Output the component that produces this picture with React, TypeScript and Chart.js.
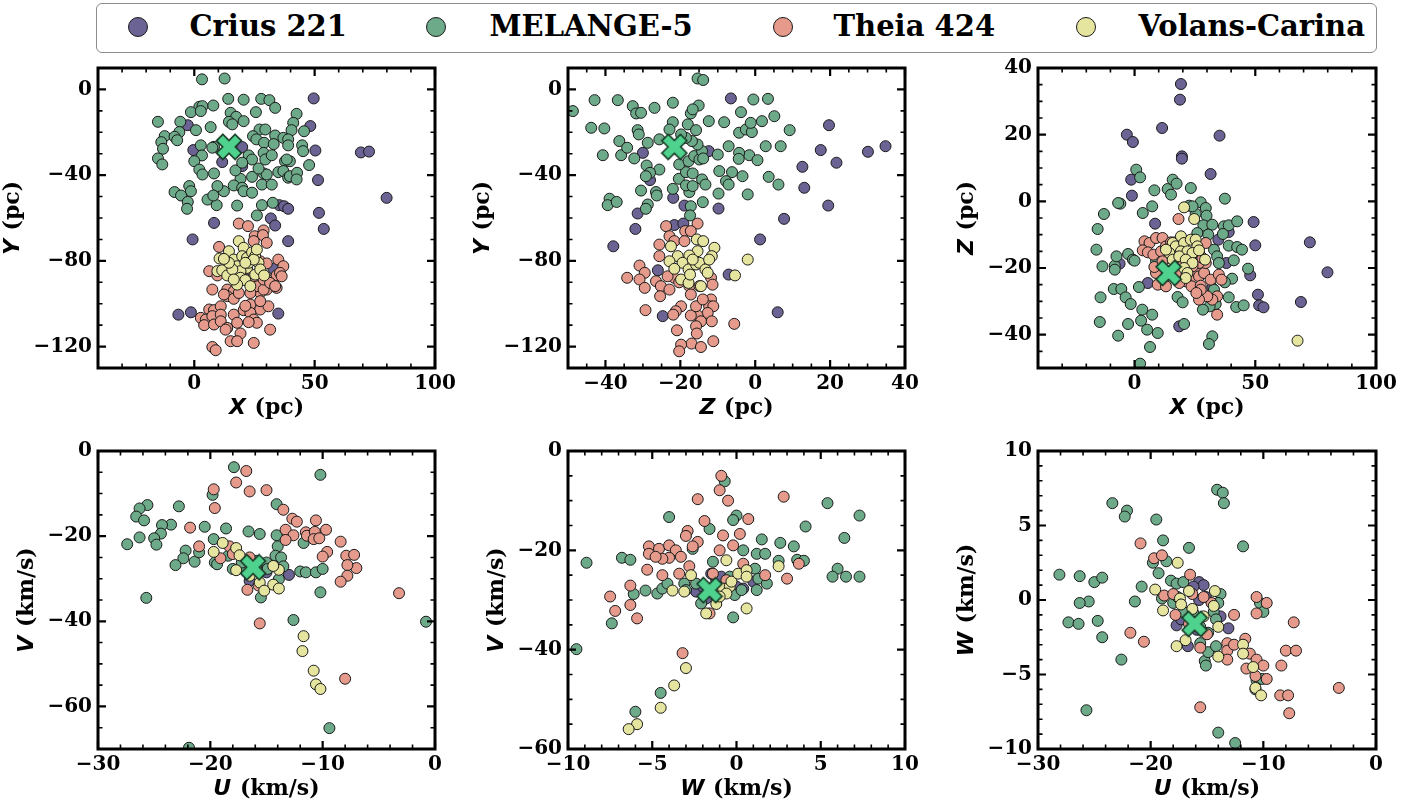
import React, { useEffect, useRef } from 'react';
import { Chart, registerables } from 'chart.js';

Chart.register(...registerables);

type Pt = [number, number];

const SERIES_NAMES = ['Crius 221', 'MELANGE-5', 'Theia 424', 'Volans-Carina'];
const SERIES_COLORS = ['#6B6394', '#6DAA89', '#E59A8B', '#E6E59F'];
const STAR_FILL = '#4FD28D';

// ---- tick labels ----
const TICKS_X_PC = [0, 50, 100];
const TICKS_Y_PC = [0, -40, -80, -120];
const TICKS_Z_PC_X = [-40, -20, 0, 20, 40];
const TICKS_Z_PC_Y = [40, 20, 0, -20, -40];
const TICKS_U = [-30, -20, -10, 0];
const TICKS_V = [0, -20, -40, -60];
const TICKS_W_X = [-10, -5, 0, 5, 10];
const TICKS_W_Y = [10, 5, 0, -5, -10];

// ---- Panel 1: X vs Y ----
const P1_CRIUS: Pt[] = [[-2.7,-16.7],[-0.4,-28.3],[11.6,-33.9],[19.9,-35.8],[19.9,-26.9],[49.6,-4.2],[48.2,-17.1],[50.3,-28.5],[69.2,-29.4],[72.6,-29],[51.4,-42.3],[79.9,-50.6],[51.8,-57.6],[53.8,-65.1],[35.3,-54],[37.3,-54.5],[39,-55.7],[31.8,-60.2],[33.6,-63.5],[8.2,-62.3],[-0.7,-70],[39,-70.8],[-6.6,-105.1],[-1.4,-104],[34.9,-104.6],[32.9,-83.7]];
const P1_MELANGE: Pt[] = [[3.2,4.7],[12.6,5.1],[14.1,-4.4],[20.5,-4.8],[27.8,-4.4],[31.2,-5],[33.6,-8.6],[2.1,-8.1],[3.4,-7.8],[7.9,-7.5],[-1.4,-10.6],[2.7,-10.1],[15.1,-10.9],[17.4,-12.8],[25.6,-10.6],[42.5,-11.4],[-15.1,-15.1],[-5.8,-15.1],[14.4,-15.1],[15.8,-16.3],[20.5,-14.8],[41.1,-15.6],[6.8,-17.6],[0.7,-19],[-6.2,-19.9],[27.1,-18.7],[29.5,-18.7],[40.4,-19],[45.6,-19.5],[-12.3,-21.8],[-8.2,-22.1],[-7.1,-23.7],[-13.7,-24.6],[2.7,-26.1],[8.2,-26.8],[24.4,-21.8],[25.8,-23.3],[29,-24.9],[33.6,-21.5],[37,-22.6],[39,-23.3],[44.8,-26.1],[-13,-27.7],[3.2,-30.8],[0,-33.5],[-15.1,-32.2],[-13.3,-35],[22.6,-30.8],[28.8,-29.6],[29.5,-32.7],[32.2,-30.7],[39,-26.1],[45.2,-28.8],[7.5,-27.2],[37.7,-33.5],[39.7,-33.5],[47.7,-35.3],[2.1,-37.4],[3.4,-39.7],[8.2,-39.2],[19.2,-41.7],[24,-40.8],[28.8,-39.2],[30.1,-39.7],[34.9,-38.6],[37,-38.1],[39,-41.2],[39.7,-40.5],[42.7,-38.9],[42.5,-42],[28.1,-44.4],[32.2,-44.4],[12.3,-47.5],[16.4,-44.8],[19.9,-45.9],[20.5,-47.5],[9.6,-45.1],[-2.1,-45.1],[-1.4,-47.5],[-8.2,-47.9],[-5.5,-49.5],[-2.7,-52.5],[-3,-55.7],[5.5,-51.4],[9.3,-54],[7.9,-49.5],[17.8,-54.2],[24,-48.2],[28.1,-54],[32.6,-52.9],[26,-58.8],[24,-32.7],[17.1,-37.8],[19.9,-34.2],[26.7,-36.9],[33,-25.5],[38.4,-32.7]];
const P1_THEIA: Pt[] = [[18.5,-62.6],[22.3,-63.8],[28.8,-65.8],[25.1,-68.5],[28.5,-68],[10.3,-73.5],[24.7,-70.8],[30.1,-71.6],[34.9,-79.4],[37,-82.5],[6.2,-84.8],[9.6,-86.8],[7.5,-93.4],[13.7,-93.4],[16.4,-94.2],[13.7,-96.5],[16.4,-97.7],[27.4,-94.9],[30.1,-93.4],[34.2,-92.6],[26,-91.8],[28.8,-93.4],[6.2,-102.7],[8.2,-103],[11,-101.2],[2.7,-106.6],[4.8,-107.4],[7.5,-105.8],[11,-105.1],[16.4,-105.1],[20.5,-103],[23.3,-100.4],[27.4,-102.7],[30.8,-101.2],[23.3,-104.3],[24.7,-107.4],[26,-108.9],[4.1,-110],[8.2,-109.7],[11,-108.2],[13.7,-111.3],[17.8,-108.9],[22.6,-108.6],[19.2,-113.9],[15.1,-117.5],[17.8,-117.5],[24.7,-118.3],[31.5,-112.1],[7.5,-120.2],[8.9,-121.7],[13,-112.1],[27.4,-80.2],[32.9,-88.7],[34.2,-86.8],[35.6,-85.6],[15.8,-85.6],[21.2,-88.7],[24.7,-87.2],[30.1,-81.2],[12.3,-95.7],[18.5,-95],[23.3,-95],[28.8,-88.7],[31.5,-90.3],[36.3,-87.2],[33.6,-91.8],[21.2,-101],[27.4,-98.8]];
const P1_VOLANS: Pt[] = [[18.5,-70.8],[20.5,-73.9],[14.4,-75.5],[10.5,-78.9],[9.6,-84.8],[11.6,-84.4],[13.7,-86.8],[16.4,-79.4],[17.8,-82.5],[19.9,-77.8],[21.9,-78.6],[24,-76],[25.3,-77.8],[26.7,-80.9],[21.9,-83.3],[19.2,-84.8],[15.8,-84],[19.2,-87.9],[21.2,-89],[23.3,-91.8],[25.3,-86.4],[27.4,-84],[29,-86.8],[17.8,-91.1],[16.4,-88.7],[22.6,-80.9],[24.7,-79.4],[26,-74.7],[21.2,-80.9],[14.4,-80.9],[12.3,-79.1]];
const P1_STAR: Pt = [14.4, -26.8];

// ---- Panel 2: Z vs Y ----
const P2_CRIUS: Pt[] = [[-6.5,-4.2],[19.7,-16.7],[17.5,-28.3],[30.1,-29.1],[34.8,-26.5],[12.6,-36.1],[21.7,-34.2],[13.1,-45.9],[19.5,-54.2],[7.7,-60.4],[1.3,-70],[-7.1,-86.4],[6,-104],[-30,-29.6],[-28.1,-42.3],[-21.9,-50.6],[-31.4,-57.9],[-32,-65.1],[-37.9,-73.2],[-26,-84.4],[-24.7,-105.8],[-21.6,-63.3],[-19.2,-62.6],[-18.9,-54.2],[-9.8,-55.6],[-12.4,-28.8]];
const P2_MELANGE: Pt[] = [[-15.4,5.1],[-13.9,4.4],[-42.9,-5],[-36.7,-5],[-48.7,-10.1],[-32.7,-7.8],[-31.8,-11.2],[-30.5,-10.9],[-26.9,-8.6],[-22,-6.2],[-15.1,-7.5],[-17.2,-11.2],[-16.7,-9.3],[-3.8,-10.6],[-0.5,-4.7],[3.4,-4.4],[5.1,-12.5],[-43.8,-17.9],[-40.3,-18.2],[-40.7,-30.7],[-36.3,-24.1],[-35.8,-30.7],[-34.2,-27.2],[-31.4,-19],[-31.1,-21],[-28.7,-24.9],[-32.3,-32.2],[-25.6,-23.3],[-22,-15.3],[-22.9,-18.7],[-18,-16.3],[-15.8,-19],[-12.4,-14.8],[-8.3,-15.3],[-7.1,-26.5],[-4.3,-20.2],[-2.5,-18.7],[-0.9,-19.9],[-1.2,-15.6],[1.8,-14.8],[2.8,-26.5],[6.8,-26.5],[9.2,-19],[-1.6,-30.7],[0.6,-33],[-4.3,-29.6],[-4.4,-32.4],[-10,-30.4],[-9.6,-38.1],[-6.2,-38.6],[-7.8,-42.8],[-7.1,-44.4],[-3.4,-40.5],[3.6,-40.8],[6.2,-44.4],[-2,-49],[-9.8,-48.6],[-25.6,-37.4],[-29,-35.5],[-28.1,-38.9],[-29.2,-40.5],[-30.5,-47.2],[-26.5,-47.9],[-26.3,-49.5],[-28.7,-53.7],[-29.2,-55.7],[-38.9,-51],[-39.4,-54],[-37,-52.5],[-22,-46.4],[-17.6,-47.9],[-20.4,-41.7],[-18.5,-38.6],[-16.7,-39.2],[-18.5,-44.8],[-16.7,-45.1],[-14.2,-42],[-13.3,-44.4],[-14,-52.6],[-17.2,-54.5],[-17.4,-58.8],[-20.3,-35],[-17.8,-33.5],[-16.3,-31.1],[-14.9,-32.7],[-14.2,-28.8],[-13.9,-32.2],[-15.4,-25.7],[-16.9,-24.1],[-18.5,-22.6],[-19.8,-21]];
const P2_THEIA: Pt[] = [[-23.8,-63.8],[-18.7,-66.1],[-15.4,-62.6],[-17.2,-66.1],[-22.9,-68.5],[-21.6,-70.8],[-25.6,-72.4],[-25.6,-77.8],[-18.9,-70.8],[-30.9,-82.2],[-29.5,-85.6],[-34.2,-87.9],[-30.9,-88.7],[-29.5,-92.6],[-26.5,-89.5],[-25.2,-91.8],[-25.4,-96.5],[-22.9,-93.4],[-21.6,-87.9],[-23.4,-87.2],[-20.3,-90],[-17.6,-91.8],[-14.9,-91.8],[-11.8,-87.9],[-11.4,-91.1],[-17.2,-95.7],[-11.8,-98],[-12.3,-101.2],[-11.2,-101.2],[-12.7,-104.3],[-11.6,-108.2],[-15.4,-105.5],[-17.2,-105.5],[-14.5,-108.2],[-15.8,-110.5],[-15.6,-113.9],[-19.8,-101.2],[-21.2,-103.5],[-21.9,-105.1],[-20.9,-112.4],[-29.3,-103],[-5.6,-109.4],[-11.2,-117.5],[-17,-118.6],[-14.5,-120.2],[-19.8,-119.1],[-20.3,-122.2],[-15.8,-101.2],[-14,-98]];
const P2_VOLANS: Pt[] = [[-22.5,-73.2],[-15.6,-70],[-13.9,-70.8],[-10.9,-73.9],[-11.6,-77.8],[-15.4,-75.5],[-17.6,-77.5],[-20.7,-77.8],[-22.9,-80.2],[-19.4,-80.9],[-21.6,-83.7],[-17.8,-84],[-15.8,-81.7],[-14.9,-80.9],[-13.3,-84],[-19.8,-88.7],[-17.8,-90.3],[-14.5,-91.8],[-12.7,-85.6],[-17.4,-86.4],[-2,-79.4],[-5.4,-86.8],[-16.7,-79.4],[-12.3,-79.4]];
const P2_STAR: Pt = [-21.6, -26.8];

// ---- Panel 3: X vs Z ----
const P3_CRIUS: Pt[] = [[19.2,35.2],[18.8,30.5],[-3.2,20],[-0.7,17.8],[11.4,22],[35.2,19.7],[19.6,13.5],[19.6,12.8],[31.5,8.2],[-1.4,6.5],[-1.1,1.7],[8.5,-6.7],[49.3,-6.2],[50,-13.2],[72.6,-12.3],[79.9,-21.3],[68.9,-30.2],[51.1,-28],[51.6,-31.2],[53.4,-31.8],[47.9,-22.2],[39,-9.2],[38,-18.5],[34.7,-11.5],[5.5,-24.5],[18.5,-37.5],[-6.2,-18.7],[32.2,-26]];
const P3_MELANGE: Pt[] = [[0.7,9.5],[2.3,7.2],[8.2,3.3],[13.7,3.7],[15.8,6.5],[17.4,5.3],[15.1,2],[23.3,4],[37.4,0.8],[-5.9,-0.7],[-6.8,-0.5],[-12.7,-3.8],[-15.3,-8.3],[-15.8,-14.5],[-13.3,-19.5],[-8.2,-19.3],[-7.5,-16.5],[-8.2,-20.5],[-2.7,-15.8],[-0.7,-17.5],[0,-17.8],[3.4,-3.5],[7.3,-1.5],[22.6,-1.3],[25.3,-3.7],[27.4,-0.3],[29.5,-2],[29.8,-4.3],[28.5,-7.2],[32.2,-7],[37,-7.5],[39,-7.2],[42.5,-6],[30.5,-10],[36.6,-9.8],[39,-13.3],[42.5,-13.7],[44.5,-14.5],[32.9,-14.5],[34.2,-16.5],[34.9,-18.5],[41.1,-17.7],[40.4,-23.2],[47,-20.2],[37.4,-24.3],[39,-28.8],[42.1,-31.7],[45.2,-31.2],[32.9,-26.5],[33.6,-30.8],[31.1,-31.5],[28.3,-32.5],[32.2,-40.5],[30.8,-42.8],[20.5,-36.8],[17.8,-28.7],[19.9,-30.3],[1.8,-25.7],[-8.6,-26.3],[-5.5,-26.3],[-3.7,-28.8],[-1.6,-30.8],[-14.1,-28.8],[-14.4,-36.2],[-2.7,-36.8],[3.2,-32.5],[2.7,-35.8],[5.2,-38.5],[7.3,-34],[9.6,-39.5],[-6.8,-40.3],[6.4,-43.7],[2.3,-48.7],[14.4,-17],[8.9,-18],[19.2,-13],[26,-9.5],[26.7,-15.5],[21.2,-19.5],[24,-1.5]];
const P3_THEIA: Pt[] = [[18.2,-5.3],[4.1,-12],[6.2,-12.5],[8.9,-11],[11.6,-11],[3.4,-14.7],[5.5,-15.3],[7.8,-16],[11,-15],[13,-13.5],[15.1,-12.3],[16.7,-12.3],[18.5,-13.5],[8.9,-21.5],[8.2,-19.7],[9.6,-25],[13,-25.5],[23.3,-23],[25.3,-21],[26.7,-22.5],[28.8,-21.5],[29.5,-18.5],[26.7,-18.5],[24,-19.5],[21.2,-24],[23.6,-25.5],[27.4,-25.3],[31.5,-23.5],[34.9,-22],[36,-23.5],[34.2,-28.5],[32.2,-29.5],[30.1,-28.5],[26.7,-29.5],[27.4,-26.5],[34.2,-34],[25.6,-27.5],[29.5,-12.5],[26.7,-15],[19.9,-19.3],[17.1,-21.5],[18.5,-24.5],[28.1,-17],[11.6,-18]];
const P3_VOLANS: Pt[] = [[20.5,-1.8],[24.7,-5.3],[19.2,-10.5],[15.8,-12.5],[17.1,-13.5],[20.5,-12.5],[23.3,-11.5],[25.3,-11.5],[26,-13.5],[19.2,-15],[21.9,-15],[24,-15.5],[26.7,-14.7],[14.4,-15.5],[15.8,-17.5],[18.5,-16.5],[21.2,-17.5],[24,-18.5],[29.2,-17.5],[20.5,-20],[21.9,-21.5],[21.2,-23],[13,-14.5],[67.5,-41.8]];
const P3_STAR: Pt = [14.1, -21.5];

// ---- Panel 4: U vs V ----
const P4_CRIUS: Pt[] = [[-13,-29.1],[-16.5,-30.5],[-15,-28.5],[-15.9,-26.6],[-15.6,-28.1],[-16.5,-28.1]];
const P4_MELANGE: Pt[] = [[-17.9,-3.8],[-10.2,-5.6],[-19.8,-10.3],[-14.1,-12.5],[-25.6,-12.7],[-26.3,-13.5],[-26.6,-15.4],[-25.9,-16.3],[-22.8,-13],[-23.5,-17.3],[-24.3,-17.4],[-24.4,-19.4],[-25,-20.5],[-24.8,-22],[-26.3,-20.3],[-27.4,-21.9],[-20.5,-17.8],[-18.6,-18.2],[-16.6,-18.9],[-15.6,-19.5],[-14.1,-19.8],[-14,-22.4],[-11.7,-21.6],[-19.7,-20.7],[-22.2,-23.4],[-22.4,-25.2],[-21.4,-26],[-23.1,-26.8],[-21,-23.8],[-19.6,-26.2],[-19.4,-26.6],[-18,-27.7],[-14.2,-24.6],[-13.7,-25],[-13.5,-27.1],[-12,-28.3],[-11.5,-28.5],[-10.6,-28.5],[-10,-27.7],[-10.2,-33.2],[-15.5,-34.4],[-13.9,-30.1],[-25.7,-34.5],[-12.6,-39.7],[-0.8,-40.1],[-9.4,-65.1],[-21.9,-69.7],[-15.9,-25.8],[-15,-26.2],[-14.9,-27.7],[-16.8,-28.1],[-17.2,-26.2],[-18.4,-24.6]];
const P4_THEIA: Pt[] = [[-16.8,-4.7],[-17.7,-7.4],[-19.7,-9],[-16.5,-9.5],[-15,-9.2],[-19.6,-13.4],[-13.5,-13.8],[-12.7,-15.9],[-12.3,-16.6],[-13.3,-18.5],[-12.6,-19.8],[-13.3,-20.9],[-11.5,-19.1],[-11.4,-19.9],[-10.6,-16.3],[-10.7,-19],[-10.8,-20.7],[-10.3,-20.5],[-9.7,-18.5],[-9.6,-23.7],[-10,-24.8],[-8.4,-21.3],[-7.9,-24.6],[-7.2,-24.4],[-7,-27.5],[-7.8,-26.8],[-7.8,-29.3],[-8.4,-30.7],[-3.2,-33.4],[-8,-53.5],[-15.6,-40.5],[-16.7,-32.6],[-21.8,-18],[-21,-22.4],[-19.1,-25.2],[-18.3,-22.4],[-18,-24.2],[-16.5,-25],[-15.7,-31.6]];
const P4_VOLANS: Pt[] = [[-18.9,-21.6],[-19.7,-23.7],[-17.7,-22.8],[-17.4,-24.5],[-17.7,-28],[-15.6,-30.9],[-15.2,-32.8],[-14.4,-31.4],[-13.9,-32.3],[-13.9,-27.9],[-14.4,-27],[-11.7,-43.5],[-11.8,-47],[-10.8,-51.6],[-10.6,-54.8],[-10.2,-55.9],[-16.5,-29.3],[-15.9,-27.7]];
const P4_STAR: Pt = [-16.2, -27.3];

// ---- Panel 5: W vs V ----
const P5_CRIUS: Pt[] = [[-2.4,-28.3],[-2,-27.3],[-1.2,-26],[-0.8,-27.3],[-1.2,-29.3],[-1.8,-29.7],[0,-27.3],[0.4,-27.7],[-0.9,-25.3],[-1.5,-24.7],[1,-26.3]];
const P5_MELANGE: Pt[] = [[-0.7,-6.1],[0,-13],[-0.2,-13.9],[-4,-13.3],[-1.6,-15.7],[5.4,-10.5],[7.3,-13],[4.1,-15.2],[1.5,-17.8],[2.6,-18.5],[3.4,-19.2],[0.4,-20],[1.2,-20.7],[1.7,-20.7],[-2.6,-19.7],[-6.8,-21.5],[-6.3,-21.9],[-8.9,-22.5],[-1.4,-22.3],[2.5,-22.1],[3.6,-21.9],[4,-22.1],[6,-23.7],[5.7,-25.3],[6.5,-25.3],[7.3,-25.3],[6.4,-17.5],[1.1,-23.7],[1.3,-25.7],[1.8,-26.7],[1.2,-28],[-0.1,-29],[-0.2,-33.5],[0.3,-28],[-4.7,-28.7],[-4.4,-27.7],[-4.1,-26.7],[-5.4,-28.1],[-6.1,-28.8],[-7.4,-34.7],[-9.5,-39.9],[-4.5,-48.7],[-6,-52.5],[-3.1,-26.7],[-3,-28],[-2.4,-26.7],[-2.1,-30.7],[-0.6,-27],[-0.4,-25.3]];
const P5_THEIA: Pt[] = [[-0.9,-5],[-1,-7.9],[-0.5,-10],[-2.3,-9.7],[2.8,-9.2],[0.7,-13.7],[-1.9,-14.1],[-2.9,-16.1],[-3,-17.1],[-0.8,-17],[0.2,-16.7],[-2.3,-18.3],[-2.6,-19.2],[-5.2,-19.2],[-5.2,-20.7],[-4.6,-19.7],[-4,-19],[-3.6,-20],[-4,-21.5],[-4.4,-21.7],[-4.8,-21.3],[-3.3,-21.3],[-0.2,-19],[-1,-20],[-5.3,-23.9],[-2.8,-23.2],[-4.4,-25],[-3.4,-24.7],[0.4,-22.7],[1.7,-25],[3,-25.7],[3.7,-22.7],[-6.3,-27.1],[-6.3,-31],[-7.5,-29.3],[-7.2,-32.2],[-5.9,-33.7],[-3.2,-40.7],[-1.6,-32.7],[-1.4,-24.7],[-0.6,-26]];
const P5_VOLANS: Pt[] = [[-0.6,-22],[2.5,-23.2],[-2.7,-25],[-3.8,-28.1],[-3.1,-28.3],[-0.8,-27.7],[-0.4,-27.3],[-0.6,-28.7],[-0.3,-26.3],[0.1,-24.7],[0.6,-24],[0.6,-25.3],[0.6,-31.7],[-1.2,-30.8],[-1.8,-32.7],[-1,-29.3],[-3,-43.7],[-3.7,-47.2],[-4.5,-51.7],[-5.9,-55],[-6.4,-56]];
const P5_STAR: Pt = [-1.6, -28];

// ---- Panel 6: U vs W ----
const P6_CRIUS: Pt[] = [[-15.7,1.2],[-15.3,1],[-16.2,0.9],[-15.7,0],[-15.1,0.2],[-17.7,-1.7],[-16.7,-3.1],[-13.1,-1.9],[-13.8,-1.1],[-15.9,-2],[-17.3,-1.3]];
const P6_MELANGE: Pt[] = [[-14.1,7.4],[-13.6,7.2],[-13.5,6.5],[-23.4,6.5],[-22.1,6],[-22.3,5.6],[-19.5,5.4],[-18.9,4],[-16.6,3.5],[-11.8,3.6],[-19.8,2.5],[-18.6,2.6],[-19.3,1.8],[-28.1,1.7],[-26.3,1.6],[-25,1.2],[-24.3,1.5],[-20.8,0.9],[-18.2,1.3],[-17.7,1.1],[-17.1,1.2],[-19,0.1],[-25.5,-0.1],[-26.3,-0.2],[-21.4,-0.1],[-27.3,-1.5],[-26.4,-1.6],[-24.7,-1.4],[-24.3,-2.5],[-22.6,-4],[-25.7,-7.4],[-14,-8.9],[-12.5,-9.6],[-15.2,-4.1],[-15.1,-4.4],[-14.9,-3.5],[-14.2,-3.1],[-13.8,0.4],[-14,-0.2],[-14.4,-0.8],[-14.2,-1.3],[-15.6,-2.9],[-10.6,-5.4],[-10.1,-5.3],[-10.7,-6],[-10.3,-0.2],[-10,-0.8],[-18,-0.2],[-17.6,0.2],[-17.1,-0.8],[-16.2,-0.9],[-15.6,-1.8],[-14.9,-2.2]];
const P6_THEIA: Pt[] = [[-20.9,3.8],[-19.7,2.8],[-19,3],[-16.5,1.7],[-18.8,0.3],[-18,0.4],[-17.8,-1],[-21.8,-2.2],[-20.6,-2.8],[-16.6,-1.6],[-15,-2.3],[-14.6,-0.2],[-12.6,-1],[-10.6,0.2],[-9.7,-0.2],[-10.6,-0.9],[-13.2,-2.9],[-13.2,-3.4],[-13.2,-4],[-12.6,-3],[-11.6,-2.6],[-11.2,-3.6],[-10.6,-4],[-11.5,-4.6],[-10.7,-5.1],[-10,-4.4],[-9.7,-5.3],[-8.4,-4.4],[-8,-3.4],[-7.1,-3.4],[-7.3,-1.5],[-8.5,-6.4],[-7.8,-6.4],[-7.7,-7.6],[-3.3,-5.9],[-15.6,-7.2],[-15.6,-3.2],[-16.3,0.4],[-15.3,0.2]];
const P6_VOLANS: Pt[] = [[-17.6,2.5],[-19.6,0.7],[-18.9,-0.7],[-17.4,0.1],[-16.6,0.6],[-17.3,-0.3],[-16.3,-0.6],[-14.4,-0.4],[-14.3,0.6],[-14,-1.8],[-16.9,-2.7],[-17.7,-3.1],[-14,-3.8],[-11.8,-3],[-11.8,-3.6],[-10.9,-4.5],[-10.7,-5.9],[-10.2,-6.4],[-15.3,-1.1]];
const P6_STAR: Pt = [-16.1, -1.6];

// ---- layout ----
const COL_L = [98, 568, 1038];
const COL_R = [435, 905, 1376];
const ROW_T = [68, 451];
const ROW_B = [368, 749];
const M_LEFT = 98;
const M_TOP = 20;
const M_RIGHT = 28;
const M_BOTTOM = 55;

const TICK_FONT = { family: "'DejaVu Serif', serif", size: 20, weight: 'bold' as const };
const TICK_FONT_CSS = "bold 20px 'DejaVu Serif'";
const SYM_FONT = "italic bold 22px 'DejaVu Sans'";
const UNIT_FONT = "bold 22px 'DejaVu Serif'";

interface AxisDef { min: number; max: number; major: number[]; minor: number; sym: string; unit: string; }
interface PanelDef { series: Pt[][]; star: Pt; x: AxisDef; y: AxisDef; col: number; row: number; }

const PANELS: PanelDef[] = [
  { series: [P1_CRIUS, P1_MELANGE, P1_THEIA, P1_VOLANS], star: P1_STAR, col: 0, row: 0,
    x: { min: -40, max: 100, major: TICKS_X_PC, minor: 10, sym: 'X', unit: ' (pc)' },
    y: { min: -130, max: 10, major: TICKS_Y_PC, minor: 10, sym: 'Y', unit: ' (pc)' } },
  { series: [P2_CRIUS, P2_MELANGE, P2_THEIA, P2_VOLANS], star: P2_STAR, col: 1, row: 0,
    x: { min: -50, max: 40, major: TICKS_Z_PC_X, minor: 5, sym: 'Z', unit: ' (pc)' },
    y: { min: -130, max: 10, major: TICKS_Y_PC, minor: 10, sym: 'Y', unit: ' (pc)' } },
  { series: [P3_CRIUS, P3_MELANGE, P3_THEIA, P3_VOLANS], star: P3_STAR, col: 2, row: 0,
    x: { min: -40, max: 100, major: TICKS_X_PC, minor: 10, sym: 'X', unit: ' (pc)' },
    y: { min: -50, max: 40, major: TICKS_Z_PC_Y, minor: 5, sym: 'Z', unit: ' (pc)' } },
  { series: [P4_CRIUS, P4_MELANGE, P4_THEIA, P4_VOLANS], star: P4_STAR, col: 0, row: 1,
    x: { min: -30, max: 0, major: TICKS_U, minor: 2, sym: 'U', unit: ' (km/s)' },
    y: { min: -70, max: 0, major: TICKS_V, minor: 5, sym: 'V', unit: ' (km/s)' } },
  { series: [P5_CRIUS, P5_MELANGE, P5_THEIA, P5_VOLANS], star: P5_STAR, col: 1, row: 1,
    x: { min: -10, max: 10, major: TICKS_W_X, minor: 1, sym: 'W', unit: ' (km/s)' },
    y: { min: -60, max: 0, major: TICKS_V, minor: 5, sym: 'V', unit: ' (km/s)' } },
  { series: [P6_CRIUS, P6_MELANGE, P6_THEIA, P6_VOLANS], star: P6_STAR, col: 2, row: 1,
    x: { min: -30, max: 0, major: TICKS_U, minor: 2, sym: 'U', unit: ' (km/s)' },
    y: { min: -10, max: 10, major: TICKS_W_Y, minor: 1, sym: 'W', unit: ' (km/s)' } },
];

const fmt = (v: number) => String(v).replace('-', '\u2212');

function minorValues(a: AxisDef): number[] {
  const out: number[] = [];
  const n = Math.round((a.max - a.min) / a.minor);
  for (let i = 0; i <= n; i++) {
    const v = a.min + i * a.minor;
    if (!a.major.some((m) => Math.abs(m - v) < 1e-9)) out.push(v);
  }
  return out;
}

function makeStar(size: number): HTMLCanvasElement {
  const c = document.createElement('canvas');
  c.width = size;
  c.height = size;
  const g = c.getContext('2d')!;
  const s = size / 2 - 1.5;
  const L = (s * Math.SQRT2) / 1.34;
  const t = L * 0.34;
  g.translate(size / 2, size / 2);
  g.rotate(Math.PI / 4);
  g.beginPath();
  const pts = [[-t, -L], [t, -L], [t, -t], [L, -t], [L, t], [t, t], [t, L], [-t, L], [-t, t], [-L, t], [-L, -t], [-t, -t]];
  pts.forEach(([x, y], i) => (i === 0 ? g.moveTo(x, y) : g.lineTo(x, y)));
  g.closePath();
  g.fillStyle = STAR_FILL;
  g.fill();
  g.lineWidth = 1.6;
  g.lineJoin = 'miter';
  g.strokeStyle = '#173a26';
  g.stroke();
  return c;
}

function drawTitle(ctx: CanvasRenderingContext2D, cx: number, cy: number, sym: string, unit: string, rotate: boolean) {
  ctx.save();
  ctx.translate(cx, cy);
  if (rotate) ctx.rotate(-Math.PI / 2);
  ctx.font = SYM_FONT;
  const w1 = ctx.measureText(sym).width + 1;
  ctx.font = UNIT_FONT;
  const w2 = ctx.measureText(unit).width;
  const x0 = -(w1 + w2) / 2;
  ctx.textBaseline = 'middle';
  ctx.textAlign = 'left';
  ctx.fillStyle = '#000';
  ctx.font = SYM_FONT;
  ctx.fillText(sym, x0, 0);
  ctx.font = UNIT_FONT;
  ctx.fillText(unit, x0 + w1, 0);
  ctx.restore();
}

function framePlugin(p: PanelDef) {
  return {
    id: 'frameTicks',
    afterDraw(chart: any) {
      const { ctx, chartArea: a, scales } = chart;
      const xs = scales.x;
      const ys = scales.y;
      ctx.save();
      ctx.strokeStyle = '#000';
      const xTicks = (vals: number[], len: number, w: number) => {
        ctx.lineWidth = w;
        ctx.beginPath();
        for (const v of vals) {
          const px = xs.getPixelForValue(v);
          ctx.moveTo(px, a.bottom);
          ctx.lineTo(px, a.bottom - len);
          ctx.moveTo(px, a.top);
          ctx.lineTo(px, a.top + len);
        }
        ctx.stroke();
      };
      const yTicks = (vals: number[], len: number, w: number) => {
        ctx.lineWidth = w;
        ctx.beginPath();
        for (const v of vals) {
          const py = ys.getPixelForValue(v);
          ctx.moveTo(a.left, py);
          ctx.lineTo(a.left + len, py);
          ctx.moveTo(a.right, py);
          ctx.lineTo(a.right - len, py);
        }
        ctx.stroke();
      };
      xTicks(p.x.major, 8, 2.2);
      xTicks(minorValues(p.x), 4.5, 1.6);
      yTicks(p.y.major, 8, 2.2);
      yTicks(minorValues(p.y), 4.5, 1.6);
      ctx.lineWidth = 3;
      ctx.strokeRect(a.left, a.top, a.right - a.left, a.bottom - a.top);

      ctx.font = TICK_FONT_CSS;
      let maxW = 0;
      for (const v of p.y.major) maxW = Math.max(maxW, ctx.measureText(fmt(v)).width);
      drawTitle(ctx, (a.left + a.right) / 2, a.bottom + 40, p.x.sym, p.x.unit, false);
      drawTitle(ctx, a.left - 6 - maxW - 20, (a.top + a.bottom) / 2, p.y.sym, p.y.unit, true);
      ctx.restore();
    },
  };
}

function axisOptions(a: AxisDef, kind: 'x' | 'y') {
  return {
    type: 'linear',
    position: kind === 'x' ? 'bottom' : 'left',
    min: a.min,
    max: a.max,
    grid: { display: false, drawTicks: false },
    border: { display: false },
    ticks: {
      autoSkip: false,
      maxRotation: 0,
      minRotation: 0,
      padding: kind === 'x' ? 4 : 6,
      color: '#000',
      font: TICK_FONT,
      callback: (v: number) => fmt(v),
    },
    afterBuildTicks: (s: any) => {
      s.ticks = a.major.map((v) => ({ value: v }));
    },
    afterFit: (s: any) => {
      if (kind === 'x') s.height = M_BOTTOM;
      else s.width = M_LEFT;
      s.paddingLeft = 0;
      s.paddingRight = 0;
      s.paddingTop = 0;
      s.paddingBottom = 0;
    },
  };
}

function Panel({ p }: { p: PanelDef }) {
  const ref = useRef<HTMLCanvasElement>(null);
  const L = COL_L[p.col];
  const R = COL_R[p.col];
  const T = ROW_T[p.row];
  const B = ROW_B[p.row];
  const w = M_LEFT + (R - L) + M_RIGHT;
  const h = M_TOP + (B - T) + M_BOTTOM;

  useEffect(() => {
    if (!ref.current) return;
    const star = makeStar(28);
    const datasets: any[] = p.series.map((arr, i) => ({
      label: SERIES_NAMES[i],
      data: arr.map(([x, y]) => ({ x, y })),
      backgroundColor: SERIES_COLORS[i],
      borderColor: '#1a1a1a',
      borderWidth: 1,
      pointRadius: 5.5,
      pointHoverRadius: 5.5,
      order: 5 - i,
      clip: 0,
    }));
    datasets.push({
      label: 'centre',
      data: [{ x: p.star[0], y: p.star[1] }],
      pointStyle: star,
      pointRadius: 14,
      order: 0,
      clip: 0,
    });
    const chart = new Chart(ref.current, {
      type: 'scatter',
      data: { datasets },
      options: {
        animation: false,
        responsive: false,
        maintainAspectRatio: false,
        devicePixelRatio: 1,
        events: [],
        layout: { padding: { left: 0, top: M_TOP, right: M_RIGHT, bottom: 0 } },
        plugins: { legend: { display: false }, tooltip: { enabled: false } },
        scales: { x: axisOptions(p.x, 'x') as any, y: axisOptions(p.y, 'y') as any },
      },
      plugins: [framePlugin(p)],
    });
    return () => chart.destroy();
  }, []);

  return (
    <canvas
      ref={ref}
      width={w}
      height={h}
      style={{ position: 'absolute', left: L - M_LEFT, top: T - M_TOP, width: w, height: h }}
    />
  );
}

const LEGEND_MARKER_X = [137, 435, 782, 1085];
const LEGEND_TEXT_X = [190, 490, 834, 1139];

function Legend() {
  const boxL = 96;
  const boxT = 3;
  return (
    <div
      style={{
        position: 'absolute',
        left: boxL,
        top: boxT,
        width: 1281,
        height: 50,
        boxSizing: 'border-box',
        border: '1.5px solid #8c8c8c',
        borderRadius: 6,
        background: '#fff',
      }}
    >
      {SERIES_NAMES.map((name, i) => (
        <React.Fragment key={name}>
          <div
            style={{
              position: 'absolute',
              left: LEGEND_MARKER_X[i] - boxL - 10,
              top: 25 - boxT - 10 + 1,
              width: 20,
              height: 20,
              boxSizing: 'border-box',
              borderRadius: '50%',
              border: '1px solid #1a1a1a',
              background: SERIES_COLORS[i],
            }}
          />
          <div
            style={{
              position: 'absolute',
              left: LEGEND_TEXT_X[i] - boxL - 1.5,
              top: -3,
              height: 50,
              lineHeight: '50px',
              fontFamily: "'DejaVu Serif', serif",
              fontWeight: 'bold',
              fontSize: 29,
              color: '#000',
              whiteSpace: 'nowrap',
            }}
          >
            {name}
          </div>
        </React.Fragment>
      ))}
    </div>
  );
}

export default function App() {
  return (
    <div
      style={{
        position: 'fixed',
        left: 0,
        top: 0,
        width: 1422,
        height: 804,
        overflow: 'hidden',
        background: '#fff',
      }}
    >
      <Legend />
      {PANELS.map((p, i) => (
        <Panel key={i} p={p} />
      ))}
    </div>
  );
}
